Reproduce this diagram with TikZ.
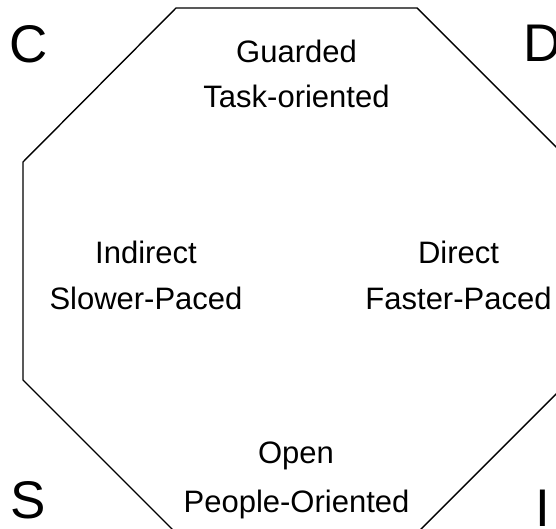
\documentclass[tikz,border=0pt]{standalone}
\usepackage{fontspec}
\setmainfont{Liberation Sans}
\tikzset{
  label text/.style={inner sep=0pt, anchor=base, font=\fontsize{31}{37}\selectfont},
  corner letter/.style={inner sep=0pt, anchor=base, font=\fontsize{53}{60}\selectfont},
  frame line/.style={draw=black, line width=1.4pt, line join=miter}
}
\begin{document}
\begin{tikzpicture}[x=1pt,y=-1pt]
  \useasboundingbox (0,0) rectangle (556,529);
  \clip (0,0) rectangle (556,529);
  % octagon outline (partly running off the right and bottom edges)
  \coordinate (o1) at (176,8);
  \coordinate (o2) at (417,8);
  \coordinate (o3) at (570,161);
  \coordinate (o4) at (570,380);
  \coordinate (o5) at (416,534);
  \coordinate (o6) at (177,534);
  \coordinate (o7) at (23,380);
  \coordinate (o8) at (23,162);
  \draw[frame line] (o1) -- (o2) -- (o3) -- (o4) -- (o5) -- (o6) -- (o7) -- (o8) -- cycle;
  % quadrant letters
  \node[corner letter] (cC) at (29,63) {C};
  \node[corner letter] (cD) at (543,62) {D};
  \node[corner letter] (cS) at (28,518) {S};
  \node[corner letter] (cI) at (543,526) {I};
  % axis labels
  \node[label text] (t1) at (296.5,63) {Guarded};
  \node[label text] (t2) at (296.5,108) {Task-oriented};
  \node[label text] (l1) at (146,263) {Indirect};
  \node[label text] (l2) at (146,309) {Slower-Paced};
  \node[label text] (r1) at (458.5,263) {Direct};
  \node[label text] (r2) at (458.5,309) {Faster-Paced};
  \node[label text] (b1) at (296,463) {Open};
  \node[label text] (b2) at (296.5,512) {People-Oriented};
\end{tikzpicture}
\end{document}
